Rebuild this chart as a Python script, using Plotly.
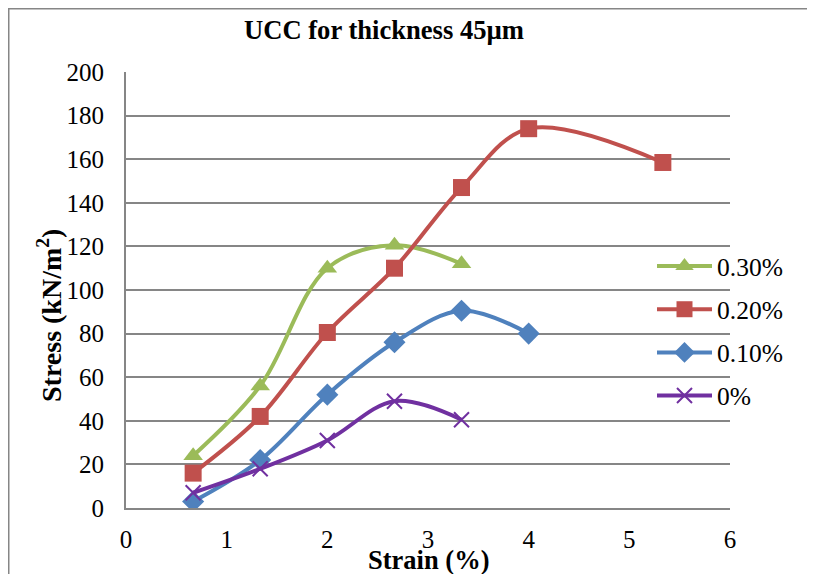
import plotly.graph_objects as go

strain = [0.667, 1.333, 2.0, 2.667, 3.333, 4.0, 5.333]

series_names = ["0.30%", "0.20%", "0.10%", "0%"]
stress_030 = [24, 56, 110, 120.5, 112]
stress_020 = [16, 42, 80.5, 110, 147, 174, 158.5]
stress_010 = [3, 22, 52, 76, 90.5, 80]
stress_000 = [7, 18, 31, 49, 40.5]

colors = ["#9BBB59", "#C0504D", "#4F81BD", "#7030A0"]
symbols = ["triangle-up", "square", "diamond", "x-thin-open"]
sizes = [17, 17, 17, 15]
all_vals = [stress_030, stress_020, stress_010, stress_000]

FONT = "Liberation Serif"

fig = go.Figure()
for name, vals, c, s, sz in zip(series_names, all_vals, colors, symbols, sizes):
    marker = dict(symbol=s, size=sz, color=c)
    if s == "x-thin-open":
        marker["line"] = dict(color=c, width=2)
    fig.add_trace(go.Scatter(
        x=strain[:len(vals)], y=vals, name=name, mode="lines+markers",
        line=dict(color=c, width=4, shape="spline", smoothing=1),
        marker=marker, legendgroup=name,
    ))

# page is offset by 8px body margin; work in figure pixels (page - 8)
OFF = 8
W, H = 807, 566
L, R, T, B = 126 - OFF, 807 - (730 - OFF), 72 - OFF, 566 - (508 - OFF)
pw, ph = W - L - R, H - T - B

def px_x(p):
    return (p - OFF - L) / pw

def px_y(p):
    return (H - B - (p - OFF)) / ph

fig.update_layout(
    width=W, height=H,
    margin=dict(l=L, r=R, t=T, b=B),
    paper_bgcolor="white", plot_bgcolor="white",
    font=dict(family=FONT, size=25, color="black"),
    showlegend=True,
    legend=dict(x=px_x(652), xanchor="left", y=px_y(331), yanchor="middle",
                font=dict(size=25.5, family=FONT), tracegroupgap=7,
                traceorder="grouped", bgcolor="rgba(0,0,0,0)", itemwidth=55),
    xaxis=dict(range=[0, 6], dtick=1, showgrid=False, zeroline=False,
               showline=True, linecolor="#868686", linewidth=2,
               ticks="outside", ticklen=8, tickcolor="rgba(0,0,0,0)",
               tickfont=dict(size=25, family=FONT)),
    yaxis=dict(range=[0, 200], dtick=20, showgrid=True, gridcolor="#868686",
               gridwidth=1.5, zeroline=False, showline=True, linecolor="#868686",
               linewidth=2, ticks="outside", ticklen=15,
               tickcolor="rgba(0,0,0,0)", tickfont=dict(size=25, family=FONT)),
    annotations=[
        dict(text="<b>UCC for thickness 45µm</b>", x=px_x(384), y=px_y(30),
             xref="paper", yref="paper", showarrow=False,
             xanchor="center", yanchor="middle",
             font=dict(size=26.6, family=FONT)),
        dict(text="<b>Strain (%)</b>", x=px_x(428), y=px_y(560),
             xref="paper", yref="paper", showarrow=False,
             xanchor="center", yanchor="middle",
             font=dict(size=26.5, family=FONT)),
        dict(text="<b>Stress (kN/m<sup>2</sup>)</b>", x=px_x(49), y=px_y(315),
             xref="paper", yref="paper", showarrow=False, textangle=-90,
             xanchor="center", yanchor="middle",
             font=dict(size=28, family=FONT)),
    ],
    shapes=[
        dict(type="rect", xref="paper", yref="paper",
             x0=px_x(8.5), x1=px_x(840), y0=px_y(600), y1=px_y(8.5),
             line=dict(color="#868686", width=2), layer="below"),
    ],
)

fig.write_html("out.html")
